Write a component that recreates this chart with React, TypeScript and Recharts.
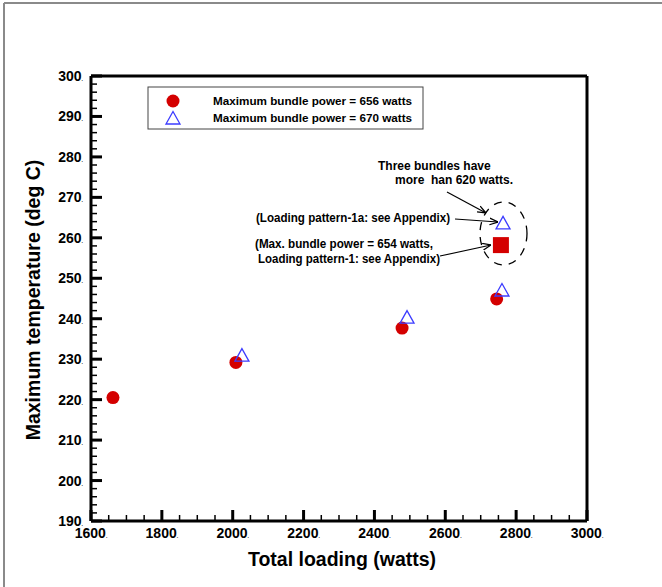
import React from "react";
import {
  ScatterChart,
  Scatter,
  XAxis,
  YAxis,
  ReferenceLine,
} from "recharts";

// Maximum bundle power = 656 watts
const loading656 = [1662, 2009, 2478, 2745];
const temp656 = [220.5, 229.2, 237.7, 244.9];

// Maximum bundle power = 670 watts
const loading670 = [2026, 2492, 2760, 2763];
const temp670 = [231.0, 240.4, 247.1, 263.7];

// Max. bundle power = 654 watts (loading pattern-1)
const loading654 = [2757];
const temp654 = [258.2];

// major ticks carry labels, minor ticks are plain marks
const xMajor = [1600, 1800, 2000, 2200, 2400, 2600, 2800, 3000];
const yMajor = [190, 200, 210, 220, 230, 240, 250, 260, 270, 280, 290, 300];
const xMinor: number[] = [];
for (let v = 1650; v < 3000; v += 50) if (v % 200 !== 0) xMinor.push(v);
const yMinor: number[] = [];
for (let v = 192; v < 300; v += 2) if (v % 10 !== 0) yMinor.push(v);

const X_MIN = 1600;
const X_MAX = 3000;
const Y_MIN = 190;
const Y_MAX = 300;

// chart box
const W = 662;
const H = 587;
const M = { top: 76, right: 75, left: 0, bottom: 0 };
const Y_AXIS_W = 91;
const X_AXIS_H = 66;
const PLOT_L = M.left + Y_AXIS_W;
const PLOT_R = W - M.right;
const PLOT_T = M.top;
const PLOT_B = H - M.bottom - X_AXIS_H;
const sx = (v: number) => PLOT_L + ((v - X_MIN) / (X_MAX - X_MIN)) * (PLOT_R - PLOT_L);
const sy = (v: number) => PLOT_B - ((v - Y_MIN) / (Y_MAX - Y_MIN)) * (PLOT_B - PLOT_T);

const RED = "#d40000";
const BLUE = "#3c3cff";
const FONT = "'Liberation Sans', Arial, sans-serif";

const toPoints = (xs: number[], ys: number[]) =>
  xs.map((x, i) => ({ x, y: ys[i] }));

const CircleMark = ({ cx, cy }: any) => (
  <circle cx={cx} cy={cy} r={6.5} fill={RED} />
);

const TriangleMark = ({ cx, cy }: any) => (
  <polygon
    points={`${cx},${cy - 6.5} ${cx - 7},${cy + 6} ${cx + 7},${cy + 6}`}
    fill="none"
    stroke={BLUE}
    strokeWidth={1.3}
  />
);

const SquareMark = ({ cx, cy }: any) => (
  <rect x={cx - 8} y={cy - 8} width={16} height={16} fill={RED} />
);

// label with the little trailing dot seen in the original
const TickText = ({ x, y, payload, textAnchor, dy }: any) => (
  <text
    x={x}
    y={y}
    dy={dy}
    textAnchor={textAnchor}
    fontFamily={FONT}
    fontWeight="bold"
    fontSize={14}
    fill="#000"
  >
    {payload.value}
    <tspan fontSize={5}>.</tspan>
  </text>
);

const textStyle = {
  fontFamily: FONT,
  fontWeight: "bold" as const,
  fontSize: 12,
  fill: "#000",
};

export default function App() {
  return (
    <div
      style={{
        position: "absolute",
        left: 0,
        top: 0,
        width: W,
        height: H,
        background: "#fff",
      }}
    >
      <ScatterChart width={W} height={H} margin={M}>
        <XAxis
          type="number"
          dataKey="x"
          domain={[X_MIN, X_MAX]}
          ticks={xMajor}
          interval={0}
          height={X_AXIS_H}
          tickSize={0}
          tickMargin={0}
          tickLine={false}
          tick={<TickText dy={17} />}
          axisLine={{ stroke: "#000", strokeWidth: 3 }}
          allowDataOverflow
        />
        <YAxis
          type="number"
          dataKey="y"
          domain={[Y_MIN, Y_MAX]}
          ticks={yMajor}
          interval={0}
          width={Y_AXIS_W}
          tickSize={0}
          tickMargin={8}
          tickLine={false}
          tick={<TickText dy={5} />}
          axisLine={{ stroke: "#000", strokeWidth: 3 }}
          allowDataOverflow
        />

        {/* frame */}
        <ReferenceLine y={Y_MAX} stroke="#000" strokeWidth={3} />
        <ReferenceLine x={X_MAX} stroke="#000" strokeWidth={3} />

        <Scatter
          name="Maximum bundle power = 656 watts"
          data={toPoints(loading656, temp656)}
          shape={<CircleMark />}
          isAnimationActive={false}
        />
        <Scatter
          name="Maximum bundle power = 670 watts"
          data={toPoints(loading670, temp670)}
          shape={<TriangleMark />}
          isAnimationActive={false}
        />
        <Scatter
          name="Max. bundle power = 654 watts"
          data={toPoints(loading654, temp654)}
          shape={<SquareMark />}
          isAnimationActive={false}
        />
      </ScatterChart>

      <svg
        width={W}
        height={H}
        style={{ position: "absolute", left: 0, top: 0, pointerEvents: "none" }}
      >
        <defs>
          <marker
            id="arrowHead"
            viewBox="0 0 10 10"
            refX={10}
            refY={5}
            markerWidth={7}
            markerHeight={7}
            orient="auto"
          >
            <path d="M0,1 L10,5 L0,9" fill="none" stroke="#000" strokeWidth={1.5} />
          </marker>
        </defs>

        {/* inward tick marks */}
        {xMajor.map((v) => (
          <line key={`xM${v}`} x1={sx(v)} x2={sx(v)} y1={PLOT_B} y2={PLOT_B - 11} stroke="#000" strokeWidth={3} />
        ))}
        {xMinor.map((v) => (
          <line key={`xm${v}`} x1={sx(v)} x2={sx(v)} y1={PLOT_B} y2={PLOT_B - 6} stroke="#000" strokeWidth={1.5} />
        ))}
        {yMajor.map((v) => (
          <line key={`yM${v}`} x1={PLOT_L} x2={PLOT_L + 11} y1={sy(v)} y2={sy(v)} stroke="#000" strokeWidth={3} />
        ))}
        {yMinor.map((v) => (
          <line key={`ym${v}`} x1={PLOT_L} x2={PLOT_L + 6} y1={sy(v)} y2={sy(v)} stroke="#000" strokeWidth={1.5} />
        ))}

        {/* outer frame */}
        <line x1={4} y1={3} x2={W} y2={3} stroke="#8a8a8a" strokeWidth={2} />
        <line x1={4} y1={3} x2={4} y2={H} stroke="#8a8a8a" strokeWidth={2} />

        {/* axis titles */}
        <text
          x={342}
          y={566}
          textAnchor="middle"
          fontFamily={FONT}
          fontWeight="bold"
          fontSize={19.5}
        >
          Total loading (watts)
        </text>
        <text
          transform="translate(40,300) rotate(-90)"
          textAnchor="middle"
          fontFamily={FONT}
          fontWeight="bold"
          fontSize={19.5}
        >
          Maximum temperature (deg C)
        </text>

        {/* legend */}
        <rect x={148} y={87} width={275} height={42} fill="#fff" stroke="#444" strokeWidth={1} />
        <circle cx={173} cy={101} r={6.5} fill={RED} />
        <polygon
          points="173,111.5 166,124 180,124"
          fill="none"
          stroke={BLUE}
          strokeWidth={1.3}
        />
        <text x={213} y={105} {...textStyle} fontSize={11.7}>
          Maximum bundle power = 656 watts
        </text>
        <text x={213} y={122} {...textStyle} fontSize={11.7}>
          Maximum bundle power = 670 watts
        </text>

        {/* annotations */}
        <text x={378} y={170} {...textStyle}>
          Three bundles have
        </text>
        <text x={395} y={184} {...textStyle} style={{ whiteSpace: "pre" }}>
          {"more  han 620 watts."}
        </text>
        <text x={256} y={222} {...textStyle} textLength={194} lengthAdjust="spacingAndGlyphs">
          (Loading pattern-1a: see Appendix)
        </text>
        <text x={255} y={248} {...textStyle} textLength={178} lengthAdjust="spacingAndGlyphs">
          (Max. bundle power = 654 watts,
        </text>
        <text x={258} y={263} {...textStyle} textLength={182} lengthAdjust="spacingAndGlyphs">
          Loading pattern-1: see Appendix)
        </text>

        <line x1={447} y1={192} x2={486} y2={213} stroke="#000" strokeWidth={1.2} markerEnd="url(#arrowHead)" />
        <line x1={455} y1={219} x2={498} y2={222} stroke="#000" strokeWidth={1.2} markerEnd="url(#arrowHead)" />
        <line x1={440} y1={256} x2={491} y2={245} stroke="#000" strokeWidth={1.2} markerEnd="url(#arrowHead)" />

        <ellipse
          cx={503.5}
          cy={233.5}
          rx={23.5}
          ry={31.5}
          fill="none"
          stroke="#000"
          strokeWidth={1.3}
          strokeDasharray="8 7"
        />
      </svg>
    </div>
  );
}
